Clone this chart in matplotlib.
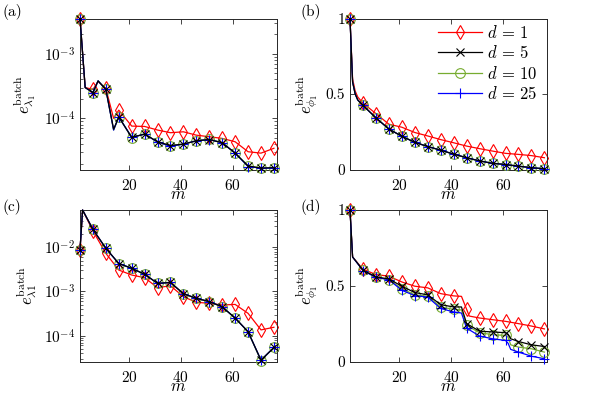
import numpy as np
import matplotlib
matplotlib.use('Agg')
import matplotlib.pyplot as plt

plt.rcParams['font.family'] = 'serif'
plt.rcParams['font.serif'] = ['cmr10']
plt.rcParams['mathtext.fontset'] = 'cm'
plt.rcParams['axes.formatter.use_mathtext'] = True

# series labels and styles
labels = [r'$d\,=\,1$', r'$d\,=\,5$', r'$d\,=\,10$', r'$d\,=\,25$']
colors = ['#ff0000', '#000000', '#77ac30', '#0000ff']
markers = ['d', 'x', 'o', '+']

# panel (a): e_lambda1, log scale
a_m = [1, 3, 6, 8, 11, 14, 16, 21, 26, 31, 36, 41, 46, 51, 56, 61, 66, 71, 76]
a_d1 = [3.5e-3, 3.0e-4, 2.8e-4, 3.7e-4, 2.9e-4, 1.0e-4, 1.34e-4, 7.6e-5, 7.5e-5, 6.6e-5,
        6.0e-5, 6.2e-5, 5.5e-5, 5.2e-5, 4.9e-5, 4.35e-5, 3.05e-5, 2.9e-5, 3.45e-5]
a_d5 = [3.5e-3, 3.0e-4, 2.5e-4, 3.8e-4, 2.8e-4, 6.8e-5, 1.05e-4, 5.1e-5, 5.7e-5, 4.35e-5,
        3.8e-5, 4.0e-5, 4.5e-5, 4.7e-5, 4.2e-5, 2.9e-5, 1.84e-5, 1.7e-5, 1.73e-5]
a_d10 = [3.5e-3, 3.0e-4, 2.5e-4, 3.8e-4, 2.8e-4, 6.6e-5, 1.05e-4, 5.0e-5, 5.8e-5, 4.3e-5,
         3.8e-5, 4.0e-5, 4.5e-5, 4.8e-5, 4.2e-5, 2.9e-5, 1.84e-5, 1.7e-5, 1.73e-5]
a_d25 = [3.5e-3, 3.0e-4, 2.5e-4, 3.8e-4, 2.8e-4, 6.6e-5, 1.05e-4, 5.1e-5, 5.7e-5, 4.3e-5,
         3.7e-5, 4.0e-5, 4.5e-5, 4.7e-5, 4.2e-5, 2.9e-5, 1.8e-5, 1.7e-5, 1.7e-5]

# panel (b): e_phi1
b_m = [1, 2, 3, 4, 6, 11, 16, 21, 26, 31, 36, 41, 46, 51, 56, 61, 66, 71, 76]
b_d1 = [1.0, 0.60, 0.52, 0.48, 0.44, 0.37, 0.30, 0.28, 0.245, 0.222, 0.198, 0.177,
        0.155, 0.138, 0.122, 0.107, 0.10, 0.092, 0.078]
b_d5 = [1.0, 0.58, 0.50, 0.46, 0.425, 0.342, 0.268, 0.22, 0.18, 0.152, 0.128, 0.102,
        0.078, 0.057, 0.041, 0.033, 0.022, 0.012, 0.005]
b_d10 = [1.0, 0.58, 0.50, 0.46, 0.425, 0.342, 0.268, 0.22, 0.18, 0.152, 0.127, 0.101,
         0.077, 0.056, 0.040, 0.032, 0.021, 0.011, 0.004]
b_d25 = [1.0, 0.58, 0.50, 0.46, 0.425, 0.342, 0.268, 0.22, 0.18, 0.152, 0.128, 0.102,
         0.078, 0.057, 0.041, 0.033, 0.022, 0.012, 0.005]

# panel (c): e_lambda1, log scale
c_m = [1, 2, 6, 11, 16, 21, 26, 31, 36, 41, 46, 51, 56, 61, 66, 71, 76]
c_d1 = [8.7e-3, 0.07, 2.35e-2, 7.3e-3, 3.06e-3, 2.36e-3, 2.05e-3, 1.22e-3, 1.35e-3,
        7.6e-4, 5.7e-4, 5.4e-4, 4.95e-4, 5.1e-4, 3.2e-4, 1.35e-4, 1.55e-4]
c_d5 = [8.7e-3, 0.07, 2.55e-2, 9.5e-3, 4.3e-3, 3.35e-3, 2.45e-3, 1.53e-3, 1.6e-3,
        8.9e-4, 7.0e-4, 5.9e-4, 4.5e-4, 2.5e-4, 1.23e-4, 2.8e-5, 5.4e-5]
c_d10 = [8.7e-3, 0.07, 2.55e-2, 9.5e-3, 4.3e-3, 3.35e-3, 2.45e-3, 1.53e-3, 1.6e-3,
         8.9e-4, 7.0e-4, 5.9e-4, 4.5e-4, 2.5e-4, 1.23e-4, 2.7e-5, 5.4e-5]
c_d25 = [8.7e-3, 0.07, 2.55e-2, 9.5e-3, 4.3e-3, 3.35e-3, 2.45e-3, 1.53e-3, 1.6e-3,
         8.9e-4, 7.0e-4, 5.9e-4, 4.5e-4, 2.5e-4, 1.23e-4, 2.8e-5, 5.4e-5]

# panel (d): e_phi1
d_m1 = [1, 2, 6, 11, 16, 21, 26, 31, 36, 41, 44, 46, 47, 51, 56, 61, 66, 71, 76]
d_d1 = [1.0, 0.69, 0.609, 0.574, 0.563, 0.525, 0.497, 0.486, 0.448, 0.433, 0.43,
        0.344, 0.30, 0.287, 0.276, 0.265, 0.25, 0.234, 0.215]
d_m = [1, 2, 6, 11, 16, 21, 26, 31, 36, 41, 44, 46, 51, 56, 61, 62, 63, 66, 71, 76]
d_d5 = [1.0, 0.69, 0.603, 0.558, 0.545, 0.497, 0.455, 0.44, 0.375, 0.36, 0.36,
        0.25, 0.20, 0.195, 0.19, 0.18, 0.15, 0.132, 0.11, 0.099]
d_d10 = [1.0, 0.69, 0.603, 0.558, 0.54, 0.48, 0.44, 0.43, 0.36, 0.344, 0.34,
         0.238, 0.19, 0.177, 0.172, 0.16, 0.11, 0.095, 0.084, 0.062]
d_d25 = [1.0, 0.69, 0.60, 0.555, 0.54, 0.47, 0.435, 0.425, 0.35, 0.327, 0.32,
         0.22, 0.168, 0.15, 0.139, 0.12, 0.08, 0.062, 0.035, 0.018]

panels = [
    ('(a)', [(a_m, a_d1), (a_m, a_d5), (a_m, a_d10), (a_m, a_d25)], True,
     r'$e^{\rm batch}_{\lambda_1}$'),
    ('(b)', [(b_m, b_d1), (b_m, b_d5), (b_m, b_d10), (b_m, b_d25)], False,
     r'$e^{\rm batch}_{\phi_1}$'),
    ('(c)', [(c_m, c_d1), (c_m, c_d5), (c_m, c_d10), (c_m, c_d25)], True,
     r'$e^{\rm batch}_{\lambda 1}$'),
    ('(d)', [(d_m1, d_d1), (d_m, d_d5), (d_m, d_d10), (d_m, d_d25)], False,
     r'$e^{\rm batch}_{\phi_1}$'),
]

# axes boxes in pixels: left, top, right, bottom
W, H = 598, 394
boxes = [(80, 18.5, 276.5, 169.5), (350, 18.5, 547, 169.5),
         (80, 210, 276.5, 361.5), (350, 210, 547, 361.5)]
tag_pos = [(2, 12), (300, 12), (2, 207), (300, 207)]
ylims = [(1.62e-5, 3.5e-3), (0, 1), (2.6e-5, 0.07), (0, 1)]
msizes = [7.5, 6, 7, 7.5]
zorders = [2, 5, 3, 4]

fig = plt.figure(figsize=(W / 100, H / 100), dpi=100)

for k, (tag, series, logy, ylab) in enumerate(panels):
    l, t, r, b = boxes[k]
    ax = fig.add_axes([l / W, 1 - b / H, (r - l) / W, (b - t) / H])
    for i in range(4):
        m, v = series[i]
        every = [j for j, mm in enumerate(m) if (mm - 1) % 5 == 0]
        ax.plot(m, v, color=colors[i], marker=markers[i], markevery=every,
                markersize=msizes[i], markerfacecolor='none', markeredgewidth=0.8,
                linewidth=0.9, label=labels[i], clip_on=False, zorder=zorders[i])
    if logy:
        ax.set_yscale('log')
    ax.set_xlim(1, 77)
    ax.set_ylim(*ylims[k])
    ax.set_xticks([20, 40, 60])
    if not logy:
        ax.set_yticks([0, 0.5, 1])
        ax.set_yticklabels(['0', '0.5', '1'])
    ax.tick_params(which='both', direction='in', top=True, right=True,
                   labelsize=11, color='#262626')
    ax.tick_params(axis='x', pad=6)
    ax.tick_params(which='major', length=3.5, width=0.6)
    ax.tick_params(which='minor', length=2, width=0.5)
    for s in ax.spines.values():
        s.set_linewidth(0.7)
        s.set_color('#262626')
    ax.set_xlabel('$m$', fontsize=12, labelpad=-4.5)
    ax.set_ylabel(ylab, fontsize=12, labelpad=4)
    tx, ty = tag_pos[k]
    fig.text(tx / W, 1 - ty / H, tag, fontsize=11, ha='left', va='center')
    if tag == '(b)':
        ax.legend(loc='upper right', bbox_to_anchor=(1.0, 1.03), frameon=False,
                  fontsize=12, handlelength=2.6, handletextpad=0.3,
                  labelspacing=0.2, borderaxespad=0.2)

fig.savefig('out.png', dpi=100)
